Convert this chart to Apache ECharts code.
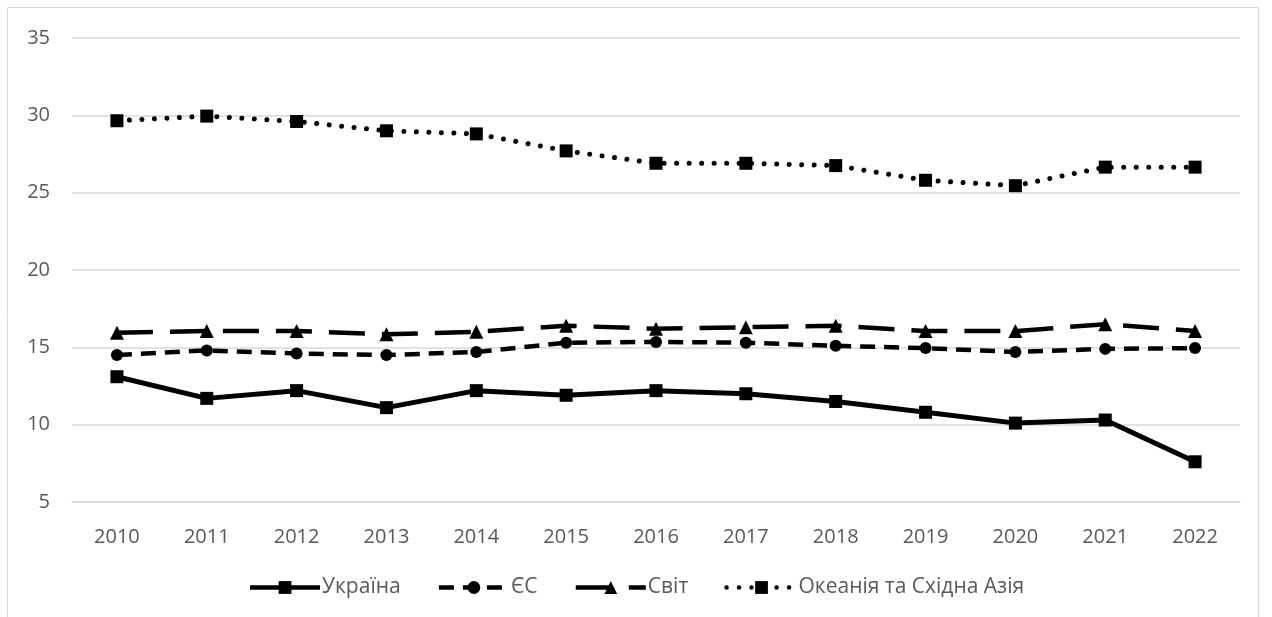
<!DOCTYPE html>
<html>
<head>
<meta charset="utf-8">
<script src="https://cdn.jsdelivr.net/npm/echarts@6/dist/echarts.min.js"></script>
<style>
  html, body { margin: 0; padding: 0; background: #fff; }
  #chart { width: 1272px; height: 617px; }
</style>
</head>
<body>
<div id="chart"></div>
<script>
const years = ['2010', '2011', '2012', '2013', '2014', '2015', '2016', '2017', '2018', '2019', '2020', '2021', '2022']
const ukraine = [13.1, 11.7, 12.2, 11.1, 12.2, 11.9, 12.2, 12.0, 11.5, 10.8, 10.1, 10.3, 7.6]
const eu = [14.5, 14.8, 14.6, 14.5, 14.7, 15.3, 15.35, 15.3, 15.1, 14.95, 14.7, 14.9, 14.95]
const world = [15.95, 16.05, 16.05, 15.85, 16.0, 16.4, 16.2, 16.3, 16.4, 16.05, 16.05, 16.5, 16.05]
const oceania = [29.65, 29.95, 29.6, 29.0, 28.8, 27.7, 26.9, 26.9, 26.75, 25.8, 25.45, 26.65, 26.65]
const names = ['Україна', 'ЄС', 'Світ', 'Океанія та Східна Азія']

const chart = echarts.init(document.getElementById('chart'))
const font = '"Open Sans", sans-serif'
const textColor = '#595959'

const mkSeries = (name, data, symbol, size, lineType, width, cap) => ({
  name,
  type: 'line',
  data,
  symbol,
  symbolSize: size,
  showSymbol: true,
  z: 3,
  itemStyle: { color: '#000', borderWidth: 0 },
  lineStyle: { color: '#000', width, type: lineType, cap: cap || 'butt' },
  emphasis: { disabled: true }
})

chart.setOption({
  animation: false,
  textStyle: { fontFamily: font },
  graphic: [{
    type: 'rect',
    shape: { x: 7.5, y: 7.5, width: 1251, height: 640 },
    style: { fill: 'none', stroke: '#d9d9d9', lineWidth: 1 },
    silent: true
  }],
  grid: { left: 72, right: 32, top: 38, bottom: 115 },
  legend: {
    bottom: 14,
    left: 'center',
    itemWidth: 70,
    itemHeight: 16,
    itemGap: 36,
    lineStyle: { width: 4.5 },
    textStyle: { color: textColor, fontSize: 21, fontFamily: font, padding: [0, 0, 0, -3] },
    data: names
  },
  xAxis: {
    type: 'category',
    data: years,
    boundaryGap: true,
    axisLine: { lineStyle: { color: '#d9d9d9', width: 1.5 } },
    axisTick: { show: false },
    axisLabel: { color: textColor, fontSize: 20, margin: 25 }
  },
  yAxis: {
    type: 'value',
    min: 5,
    max: 35,
    interval: 5,
    axisLine: { show: false },
    axisTick: { show: false },
    splitLine: { lineStyle: { color: '#d9d9d9', width: 1.5 } },
    axisLabel: { color: textColor, fontSize: 20, margin: 22 }
  },
  series: [
    mkSeries(names[0], ukraine, 'rect', 13, 'solid', 5),
    mkSeries(names[1], eu, 'circle', 12, [15, 9], 4.5),
    mkSeries(names[2], world, 'triangle', 14, [36, 17], 4.5),
    mkSeries(names[3], oceania, 'rect', 13, [0.01, 12.5], 5, 'round')
  ]
})

window.addEventListener('resize', () => chart.resize())
</script>
</body>
</html>
